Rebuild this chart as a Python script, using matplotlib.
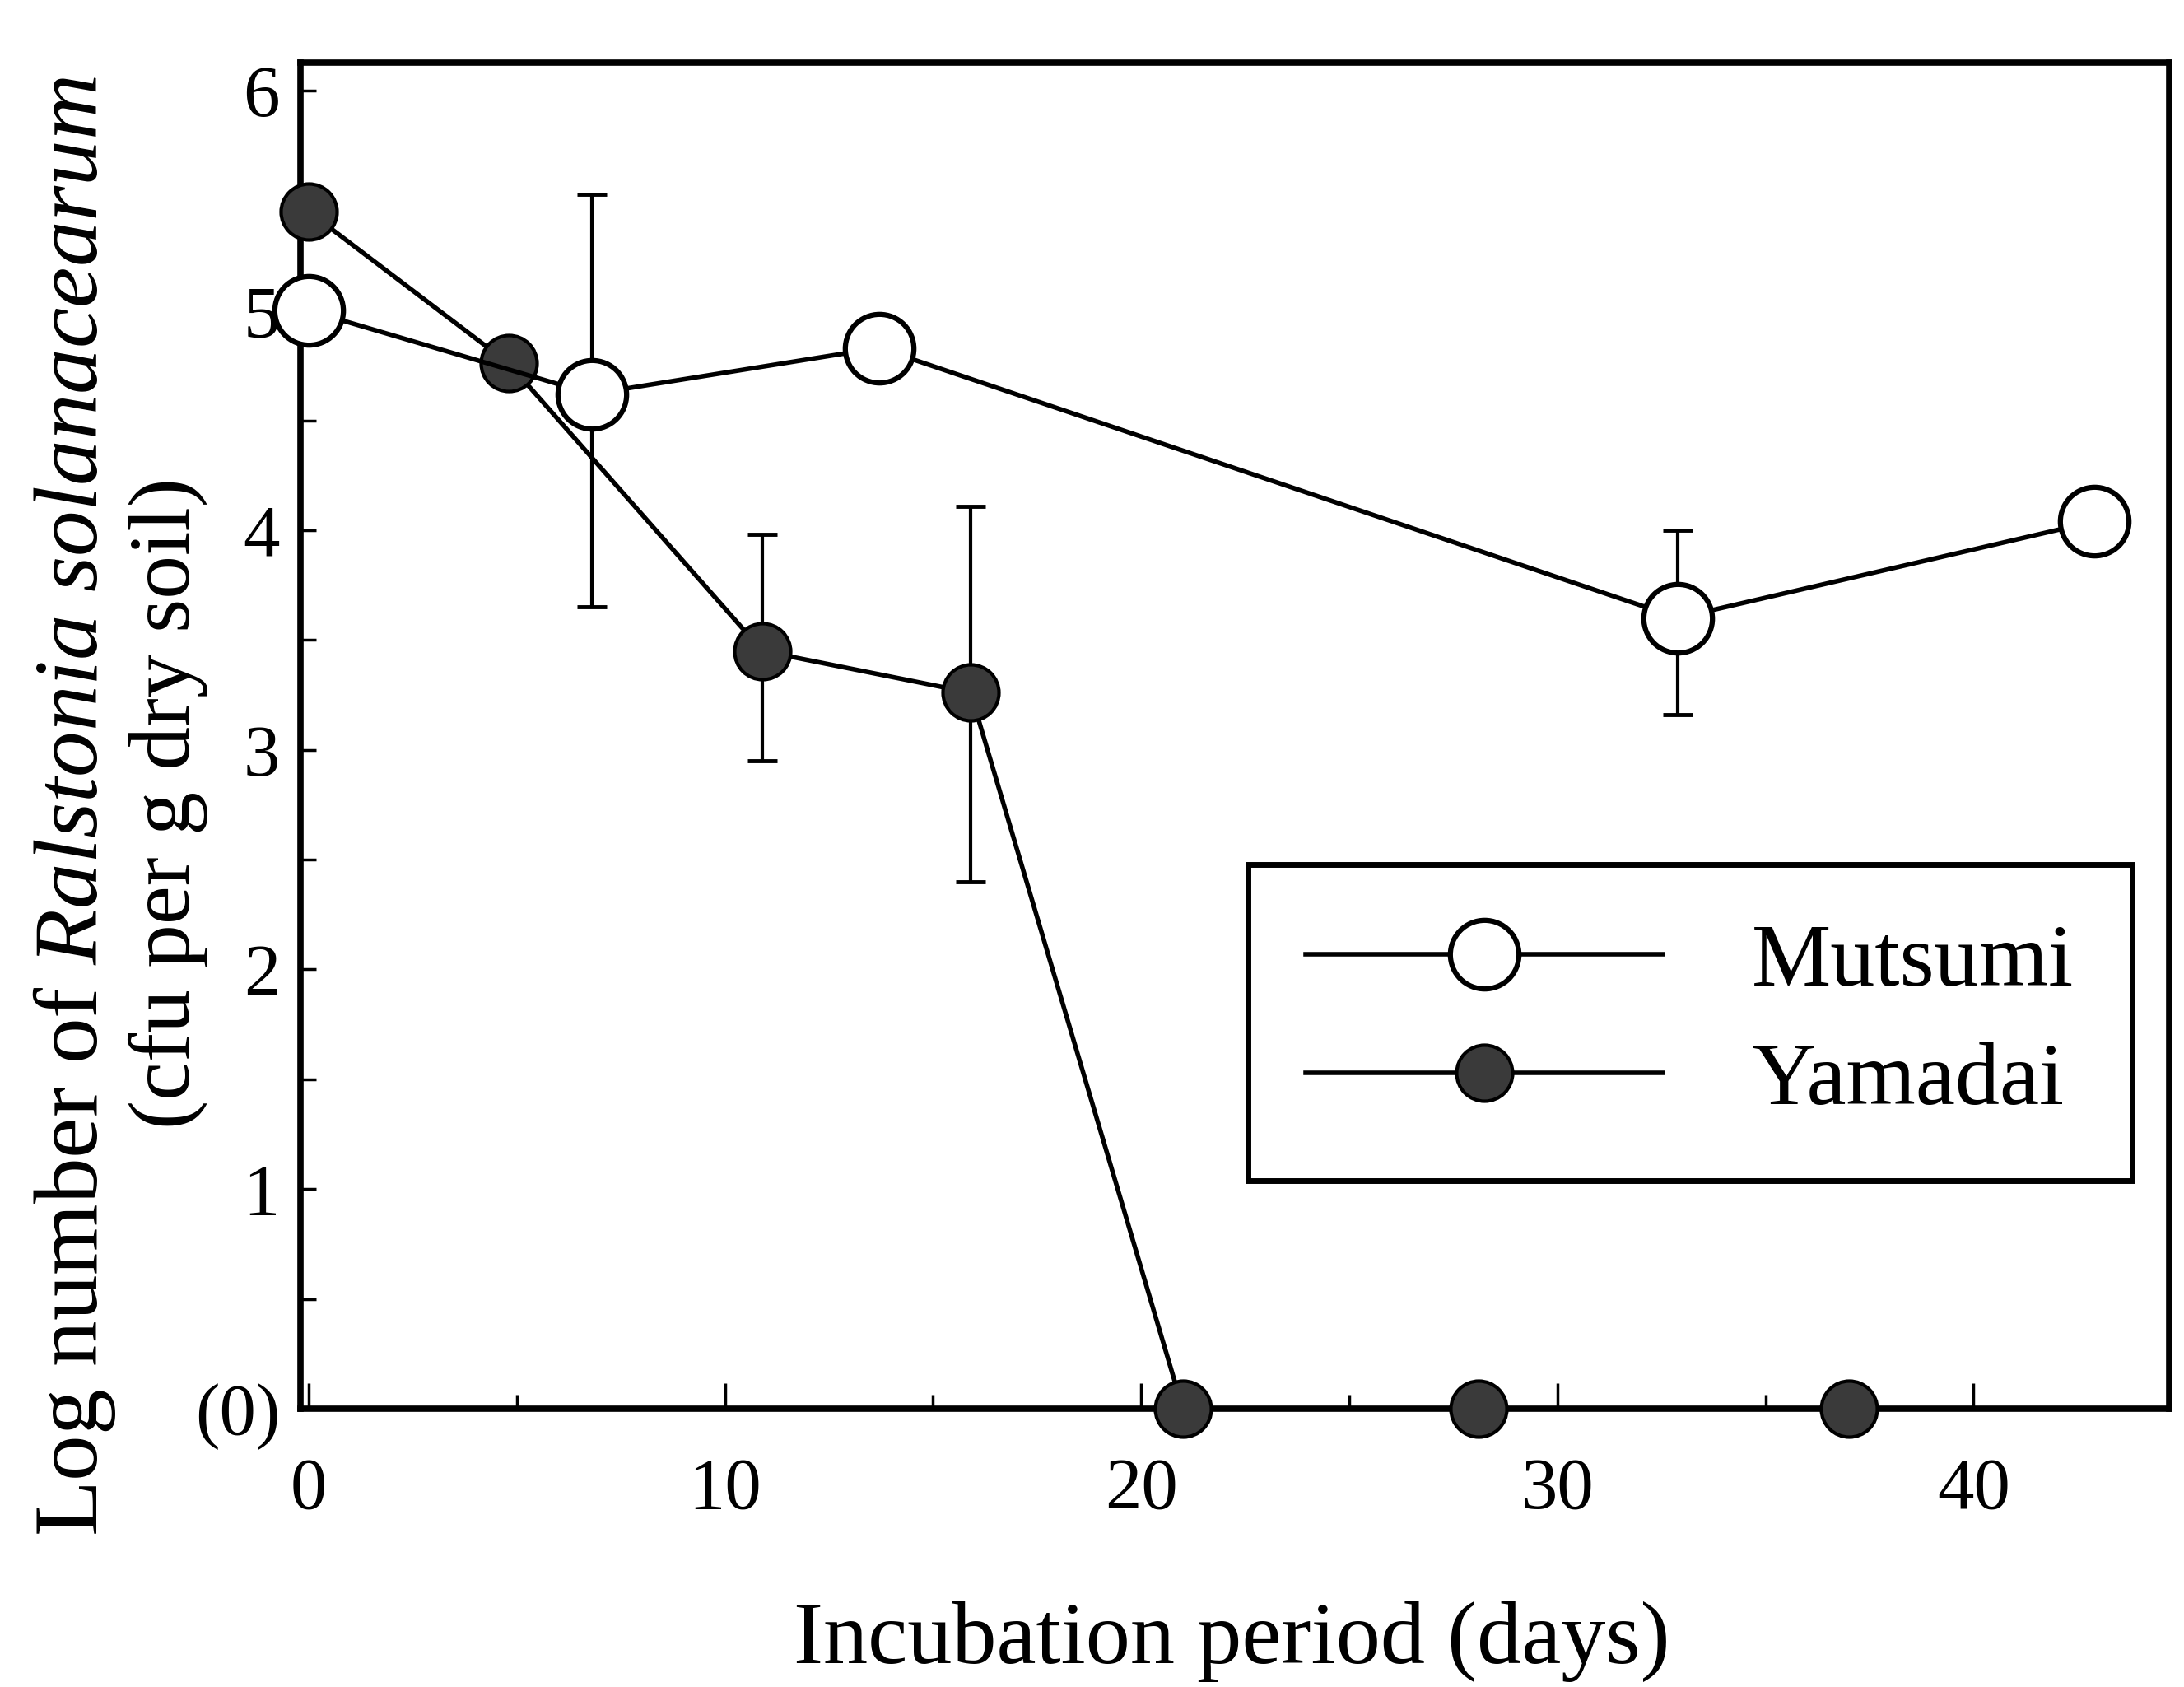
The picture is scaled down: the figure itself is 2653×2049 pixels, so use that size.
import numpy as np
import matplotlib.pyplot as plt
from matplotlib.ticker import MultipleLocator

plt.rcParams['font.family'] = ['Liberation Serif', 'DejaVu Serif']
plt.rcParams['mathtext.fontset'] = 'custom'
plt.rcParams['mathtext.rm'] = 'Liberation Serif'
plt.rcParams['mathtext.it'] = 'Liberation Serif:italic'

# 値
mutsumi_days = [0, 6.8, 13.7, 32.9, 42.9]
mutsumi_log = [5.0, 4.62, 4.83, 3.6, 4.04]
mutsumi_bar_days = [6.8, 32.9]
mutsumi_bar_low = [3.65, 3.16]
mutsumi_bar_high = [5.53, 4.0]

yamadai_days = [0, 4.8, 10.9, 15.9, 21, 28.1, 37]
yamadai_log = [5.45, 4.76, 3.45, 3.26, 0, 0, 0]
yamadai_bar_days = [10.9, 15.9]
yamadai_bar_low = [2.95, 2.40]
yamadai_bar_high = [3.98, 4.11]

x_ticks = [0, 10, 20, 30, 40]
y_ticks = [0, 1, 2, 3, 4, 5, 6]
y_labels = ['(0)', '1', '2', '3', '4', '5', '6']

fig = plt.figure(figsize=(26.53, 20.49), dpi=100)
ax = fig.add_axes([0.1376, 0.165, 0.8556, 0.798])

# エラーバー
for days, low, high in [(mutsumi_bar_days, mutsumi_bar_low, mutsumi_bar_high),
                        (yamadai_bar_days, yamadai_bar_low, yamadai_bar_high)]:
    low = np.array(low)
    high = np.array(high)
    ax.errorbar(days, (low + high) / 2, yerr=(high - low) / 2, fmt='none',
                ecolor='black', elinewidth=3, capsize=13, capthick=3.5,
                zorder=2, clip_on=False)

ax.plot(mutsumi_days, mutsumi_log, '-o', color='black', lw=4,
        ms=60, mfc='white', mec='black', mew=4.5, zorder=4,
        clip_on=False, label='Mutsumi')
ax.plot(yamadai_days, yamadai_log, '-o', color='black', lw=4,
        ms=49, mfc='#3a3a3a', mec='black', mew=3, zorder=3,
        clip_on=False, label='Yamadai')

ax.set_xlim(-0.2, 44.7)
ax.set_ylim(0, 6.13)

ax.set_xticks(x_ticks)
ax.xaxis.set_minor_locator(MultipleLocator(5))
ax.set_yticks(y_ticks)
ax.set_yticklabels(y_labels)
ax.yaxis.set_minor_locator(MultipleLocator(0.5))

ax.tick_params(axis='both', which='both', direction='in', width=2.5,
               top=False, right=False, labelsize=64)
ax.tick_params(axis='x', which='major', length=22, pad=42)
ax.tick_params(axis='x', which='minor', length=12)
ax.tick_params(axis='y', which='both', length=14, pad=18)

for s in ax.spines.values():
    s.set_linewidth(5.5)

leg = ax.legend(loc='upper left', bbox_to_anchor=(0.507, 0.404),
                borderaxespad=0, fontsize=78, handlelength=4.0,
                handletextpad=1.0, borderpad=0.65, labelspacing=0.42,
                fancybox=False, framealpha=1, edgecolor='black')
leg.get_frame().set_linewidth(5)

fig.text(0.034, 0.522, 'Log number of $Ralstonia\\ solanacearum$',
         rotation=90, ha='center', va='center', fontsize=80)
fig.text(0.077, 0.524, '(cfu per g dry soil)',
         rotation=90, ha='center', va='center', fontsize=76)
fig.text(0.564, 0.027, 'Incubation period (days)', ha='center', va='center',
         fontsize=78)

fig.savefig('out.png', dpi=100)
